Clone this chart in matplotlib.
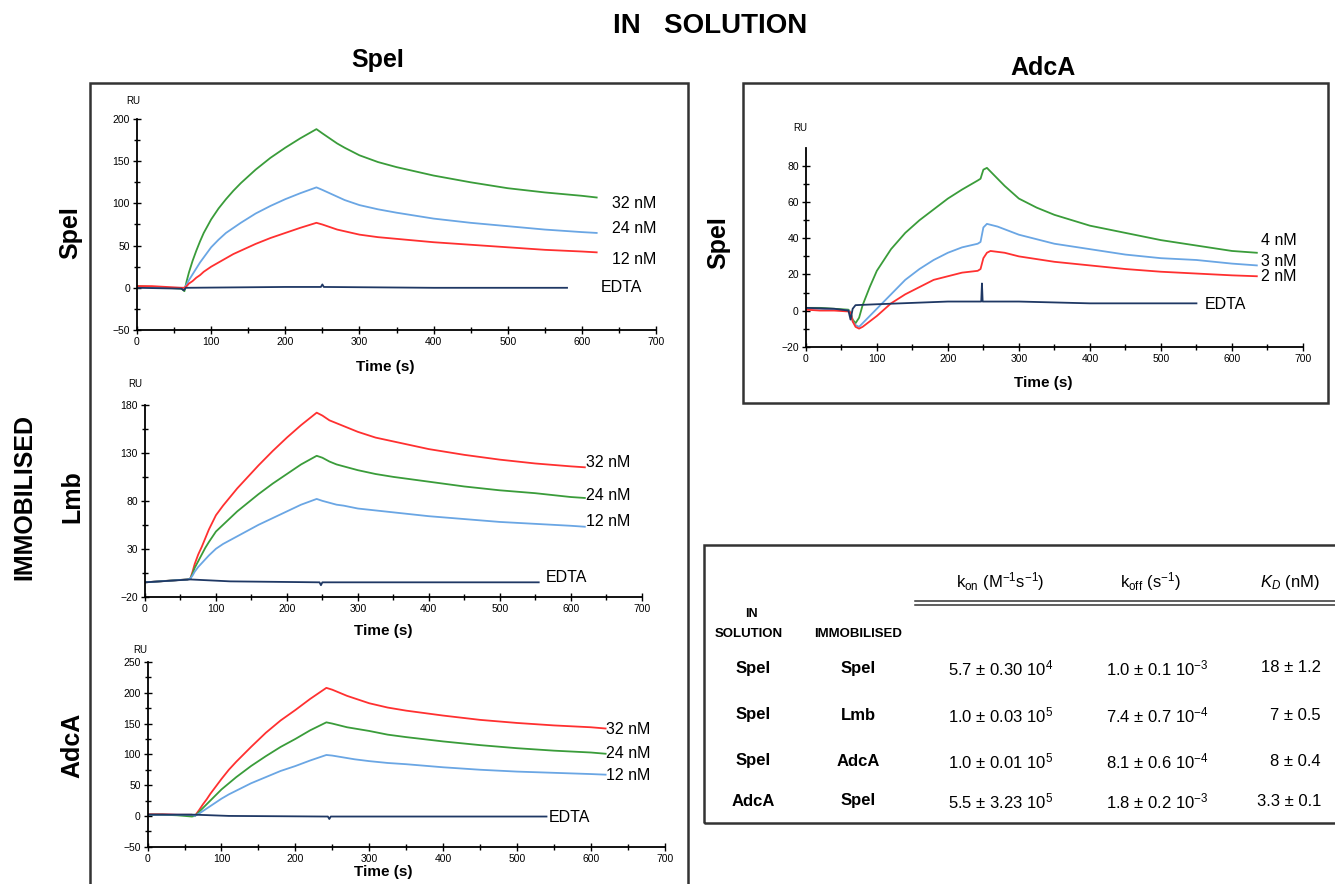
import numpy as np
import matplotlib.pyplot as plt
from matplotlib.patches import Rectangle
from matplotlib.lines import Line2D
from matplotlib.ticker import MultipleLocator, FixedLocator

plt.rcParams['font.family'] = ['Liberation Sans', 'DejaVu Sans']
plt.rcParams['mathtext.fontset'] = 'custom'
plt.rcParams['mathtext.rm'] = 'Liberation Sans'
plt.rcParams['mathtext.it'] = 'Liberation Sans:italic'
plt.rcParams['mathtext.bf'] = 'Liberation Sans:bold'

# ---- sensorgram data (time in s, response in RU) ----
t_std = [0, 20, 40, 60, 64, 67, 70, 75, 80, 85, 90, 100, 110, 120, 130, 140,
         160, 180, 200, 220, 242, 250, 260, 270, 280, 300, 325, 350,
         400, 450, 500, 550, 600, 620]

# SpeI in solution / SpeI immobilised
spe_spe_32 = [2, 1, 0, -1, -4, 8, 18, 32, 44, 55, 65, 81, 94, 105, 115, 124,
              140, 154, 166, 177, 188, 183, 177, 171, 166, 157, 149, 143,
              133, 125, 118, 113, 109, 107]
spe_spe_24 = [1, 1, 0, 0, 0, 4, 9, 16, 23, 30, 36, 48, 57, 65, 71, 77,
              88, 97, 105, 112, 119, 116, 112, 108, 104, 98, 93, 89,
              82, 77, 73, 69, 66, 65]
spe_spe_12 = [2, 2, 1, 0, 0, 2, 5, 8, 12, 15, 19, 25, 30, 35, 40, 44,
              52, 59, 65, 71, 77, 75, 72, 69, 67, 63, 60, 58,
              54, 51, 48, 45, 43, 42]
spe_spe_edta_t = [0, 60, 63, 66, 200, 248, 250, 252, 400, 580]
spe_spe_edta = [0, -1, -3, 0, 1, 1, 4, 1, 0, 0]

# SpeI in solution / Lmb immobilised
spe_lmb_32 = [-5, -4, -3, -2, -1, 6, 14, 24, 32, 41, 50, 65, 75, 84, 93, 101,
              117, 132, 146, 159, 172, 169, 164, 161, 158, 152, 146, 142,
              134, 128, 123, 119, 116, 115]
spe_lmb_24 = [-5, -4, -3, -2, -1, 4, 10, 17, 24, 31, 37, 48, 55, 62, 69, 75,
              87, 98, 108, 118, 127, 125, 121, 118, 116, 112, 108, 105,
              100, 95, 91, 88, 84, 83]
spe_lmb_12 = [-5, -4, -3, -2, -1, 2, 6, 11, 15, 19, 23, 30, 35, 39, 43, 47,
              55, 62, 69, 76, 82, 80, 78, 76, 75, 72, 70, 68,
              64, 61, 58, 56, 54, 53]
spe_lmb_edta_t = [0, 64, 120, 246, 248, 250, 400, 555]
spe_lmb_edta = [-5, -2, -4, -5, -8, -5, -5, -5]

# SpeI in solution / AdcA immobilised
spe_adc_32 = [3, 3, 2, 2, 0, 5, 10, 19, 27, 36, 44, 60, 75, 88, 100, 112,
              135, 155, 172, 190, 208, 205, 200, 195, 191, 183, 176, 171,
              163, 156, 151, 147, 144, 142]
spe_adc_24 = [2, 2, 1, -1, 0, 3, 7, 13, 19, 25, 31, 43, 53, 63, 72, 81,
              97, 112, 125, 139, 152, 150, 147, 144, 142, 138, 132, 128,
              121, 115, 110, 106, 103, 101]
spe_adc_12 = [2, 2, 2, 2, 0, 2, 4, 8, 12, 16, 20, 28, 35, 41, 47, 53,
              63, 73, 81, 90, 99, 98, 96, 94, 92, 89, 86, 84,
              79, 75, 72, 70, 68, 67]
spe_adc_edta_t = [0, 64, 110, 240, 244, 246, 248, 400, 540]
spe_adc_edta = [2, 2, 0, -1, -1, -5, -1, -1, -1]

# AdcA in solution / SpeI immobilised
t_adc = [0, 20, 40, 60, 63, 66, 70, 75, 80, 85, 90, 100, 110, 120,
         140, 160, 180, 200, 220, 242, 246, 250, 255, 260, 270, 280,
         300, 325, 350, 400, 450, 500, 550, 600, 635]
adc_spe_4 = [1.5, 1.5, 1, 0.5, -1, -5, -7, -4, 3, 8, 13, 22, 28, 34,
             43, 50, 56, 62, 67, 72, 73, 78, 79, 77, 73, 69,
             62, 57, 53, 47, 43, 39, 36, 33, 32]
adc_spe_3 = [1, 1, 0.5, 0, -1, -6, -8, -9, -7, -5, -3, 1, 5, 9,
             17, 23, 28, 32, 35, 37, 38, 46, 48, 47.5, 46.5, 45,
             42, 39.5, 37, 34, 31, 29, 28, 26, 25]
adc_spe_2 = [0.5, 0, 0, -0.5, -1, -6, -9, -10, -9, -7.5, -6, -3, 0.5, 4,
             9, 13, 17, 19, 21, 22, 23, 29, 32, 33, 32.5, 32,
             30, 28.5, 27, 25, 23, 21.5, 20.5, 19.5, 19]
adc_spe_edta_t = [0, 40, 60, 63, 66, 70, 100, 200, 247, 248, 249, 252, 300, 400, 550]
adc_spe_edta = [1.5, 1, 0, -5, 1, 3, 3.5, 5, 5, 15, 5, 5, 5, 4, 4]

# ---- kinetic table ----
tab_solution = ['SpeI', 'SpeI', 'SpeI', 'AdcA']
tab_immobilised = ['SpeI', 'Lmb', 'AdcA', 'SpeI']
kon_val = ['5.7 ± 0.30', '1.0 ± 0.03', '1.0 ± 0.01', '5.5 ± 3.23']
kon_exp = ['4', '5', '5', '5']
koff_val = ['1.0 ± 0.1', '7.4 ± 0.7', '8.1 ± 0.6', '1.8 ± 0.2']
koff_exp = ['-3', '-4', '-4', '-3']
kd_val = ['18 ± 1.2', '7 ± 0.5', '8 ± 0.4', '3.3 ± 0.1']

GREEN = '#3a9c3a'
BLUE = '#6aa6e4'
RED = '#ff3030'
NAVY = '#1f3864'

W, H = 1335, 884


def fx(px):
    return px / W


def fy(py):
    return 1 - py / H


fig = plt.figure(figsize=(13.35, 8.84), dpi=100)


def make_ax(left, top, right, bottom, ylim, ytop, ymaj, ymin):
    ax = fig.add_axes([fx(left), fy(bottom), (right - left) / W, (bottom - top) / H])
    ax.set_xlim(0, 700)
    ax.xaxis.set_major_locator(MultipleLocator(100))
    ax.xaxis.set_minor_locator(MultipleLocator(50))
    ax.yaxis.set_major_locator(FixedLocator(np.arange(ylim[0], ytop + 0.1, ymaj)))
    ax.yaxis.set_minor_locator(FixedLocator(np.arange(ylim[0], ytop + 0.1, ymin)))
    ax.set_ylim(*ylim)
    for s in ['top', 'right']:
        ax.spines[s].set_visible(False)
    for s in ['left', 'bottom']:
        ax.spines[s].set_linewidth(1.3)
    ax.tick_params(which='major', direction='inout', length=6, width=1, labelsize=7.5, pad=2)
    ax.tick_params(which='minor', direction='inout', length=4, width=1)
    ax.patch.set_alpha(0)
    return ax


def curves(ax, t, series, edta_t, edta, labels, label_x, label_y, edta_xy):
    for y, c in series:
        ax.plot(t, y, color=c, lw=1.3)
    ax.plot(edta_t, edta, color=NAVY, lw=1.3)
    for lab, ly in zip(labels, label_y):
        ax.text(label_x, ly, lab, fontsize=11.5, va='center', ha='left', clip_on=False)
    ax.text(edta_xy[0], edta_xy[1], 'EDTA', fontsize=11.5, va='center', ha='left', clip_on=False)


# top-left : SpeI / SpeI
ax1 = make_ax(137, 119, 656, 330, (-50, 200), 200, 50, 25)
curves(ax1, t_std, [(spe_spe_32, GREEN), (spe_spe_24, BLUE), (spe_spe_12, RED)],
       spe_spe_edta_t, spe_spe_edta, ['32 nM', '24 nM', '12 nM'], 641, [100, 70, 34], (626, 0))

# middle-left : SpeI / Lmb
ax2 = make_ax(145, 405, 641.6, 596.7, (-20, 180), 180, 50, 25)
curves(ax2, t_std, [(spe_lmb_32, RED), (spe_lmb_24, GREEN), (spe_lmb_12, BLUE)],
       spe_lmb_edta_t, spe_lmb_edta, ['32 nM', '24 nM', '12 nM'], 621, [120, 86, 58], (565, 0))

# bottom-left : SpeI / AdcA
ax3 = make_ax(147.6, 662, 664.7, 846.7, (-50, 250), 250, 50, 25)
curves(ax3, t_std, [(spe_adc_32, RED), (spe_adc_24, GREEN), (spe_adc_12, BLUE)],
       spe_adc_edta_t, spe_adc_edta, ['32 nM', '24 nM', '12 nM'], 620, [140, 102, 65], (543, -2))

# right : AdcA / SpeI
ax4 = make_ax(805.8, 148, 1303, 346.7, (-20, 90), 80, 20, 10)
curves(ax4, t_adc, [(adc_spe_4, GREEN), (adc_spe_3, BLUE), (adc_spe_2, RED)],
       adc_spe_edta_t, adc_spe_edta, ['4 nM', '3 nM', '2 nM'], 641, [39, 27, 19], (561, 3.5))

# RU and Time labels
for (x, y) in [(133, 101), (135, 384), (140, 650), (800, 128)]:
    fig.text(fx(x), fy(y), 'RU', fontsize=7, ha='center', va='center')
for (x, y) in [(385, 367), (383, 631), (383, 872), (1043, 383)]:
    fig.text(fx(x), fy(y), 'Time (s)', fontsize=11, fontweight='bold', ha='center', va='center')

# frames
frame_kw = dict(transform=fig.transFigure, fill=False, edgecolor='#333333', lw=1.8, clip_on=False)
fig.patches.append(Rectangle((fx(90), fy(900)), 598 / W, (900 - 83) / H, **frame_kw))
fig.patches.append(Rectangle((fx(743), fy(403)), 585 / W, 320 / H, **frame_kw))
fig.patches.append(Rectangle((fx(704), fy(823)), 700 / W, 278 / H, **frame_kw))

# titles
fig.text(fx(710), fy(26), 'IN   SOLUTION', fontsize=20, fontweight='bold', ha='center', va='center')
fig.text(fx(378), fy(60), 'SpeI', fontsize=18, fontweight='bold', ha='center', va='center')
fig.text(fx(1043), fy(68), 'AdcA', fontsize=18, fontweight='bold', ha='center', va='center')
fig.text(fx(24), fy(497), 'IMMOBILISED', fontsize=18, fontweight='bold', rotation=90,
         ha='center', va='center')
for (x, y, s) in [(70, 233, 'SpeI'), (72, 497, 'Lmb'), (72, 745, 'AdcA'), (718, 243, 'SpeI')]:
    fig.text(fx(x), fy(y), s, fontsize=18, fontweight='bold', rotation=90, ha='center', va='center')

# table
fig.text(fx(1000), fy(582), r'k$_{\mathrm{on}}$ (M$^{-1}$s$^{-1}$)', fontsize=12, ha='center', va='center')
fig.text(fx(1150), fy(582), r'k$_{\mathrm{off}}$ (s$^{-1}$)', fontsize=12, ha='center', va='center')
fig.text(fx(1290), fy(582), r'$K_D$ (nM)', fontsize=12, ha='center', va='center')
for yy in (601, 604.5):
    fig.lines.append(Line2D([fx(915), fx(1345)], [fy(yy), fy(yy)], transform=fig.transFigure,
                            color='#333333', lw=1.1))
fig.text(fx(751), fy(614), 'IN', fontsize=9, fontweight='bold', ha='center', va='center')
fig.text(fx(749), fy(634), 'SOLUTION', fontsize=9.5, fontweight='bold', ha='center', va='center')
fig.text(fx(858), fy(634), 'IMMOBILISED', fontsize=9.5, fontweight='bold', ha='center', va='center')

row_y = [668, 715, 761, 801]
for i, yy in enumerate(row_y):
    fig.text(fx(753), fy(yy), tab_solution[i], fontsize=12, fontweight='bold', ha='center', va='center')
    fig.text(fx(858), fy(yy), tab_immobilised[i], fontsize=12, fontweight='bold', ha='center', va='center')
    fig.text(fx(1001), fy(yy), kon_val[i] + ' 10$^{' + kon_exp[i] + '}$', fontsize=12,
             ha='center', va='center')
    fig.text(fx(1157), fy(yy), koff_val[i] + ' 10$^{' + koff_exp[i] + '}$', fontsize=12,
             ha='center', va='center')
    fig.text(fx(1321), fy(yy), kd_val[i], fontsize=12, ha='right', va='center')

plt.savefig('out.png', dpi=100)
